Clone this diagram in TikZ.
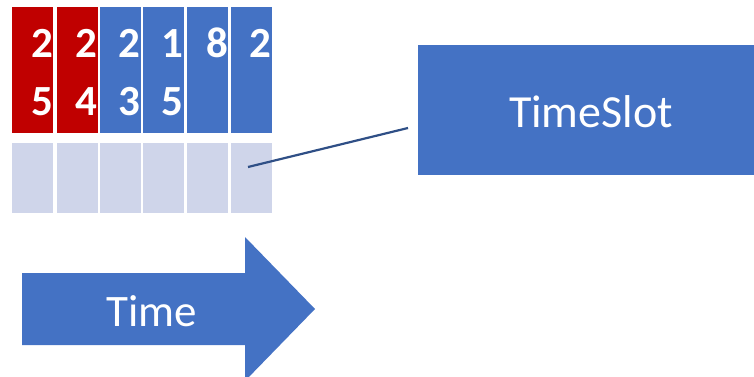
\documentclass[tikz,border=0pt]{standalone}
\usepackage{fontspec}
\setmainfont{Carlito}
\definecolor{obl}{HTML}{4472C4}
\definecolor{ored}{HTML}{C00000}
\definecolor{olight}{HTML}{CFD5EA}
\definecolor{oline}{HTML}{2F4F86}
\begin{document}
\begin{tikzpicture}[x=1pt,y=-1pt,
  topcell/.style={draw=none,fill=#1,minimum width=41pt,minimum height=126pt,inner sep=0pt,outer sep=0pt,anchor=north west},
  botcell/.style={draw=none,fill=olight,minimum width=41pt,minimum height=70pt,inner sep=0pt,outer sep=0pt,anchor=north west},
  digit/.style={text=white,font=\fontsize{43}{43}\selectfont\bfseries,inner sep=0pt,anchor=base east},
  bigbox/.style={fill=obl,draw=none,inner sep=0pt,outer sep=0pt},
  lbl/.style={text=white,font=\fontsize{46}{46}\selectfont,inner sep=0pt}]
\useasboundingbox (0,0) rectangle (754,377);
% top cells
\node[topcell=ored] (t1) at (12,7) {};
\node[topcell=ored] (t2) at (56.5,7) {};
\node[topcell=obl] (t3) at (100,7) {};
\node[topcell=obl] (t4) at (143,7) {};
\node[topcell=obl] (t5) at (187,7) {};
\node[topcell=obl] (t6) at (230.5,7) {};
% bottom cells
\node[botcell] (b1) at (12,143) {};
\node[botcell] (b2) at (56.5,143) {};
\node[botcell] (b3) at (100,143) {};
\node[botcell] (b4) at (143,143) {};
\node[botcell] (b5) at (187,143) {};
\node[botcell] (b6) at (230.5,143) {};
% digits
\node[digit] (d1a) at (53,58) {2};
\node[digit] (d1b) at (53,115) {5};
\node[digit] (d2a) at (97,58) {2};
\node[digit] (d2b) at (97,115) {4};
\node[digit] (d3a) at (140.5,58) {2};
\node[digit] (d3b) at (140.5,115) {3};
\node[digit] (d4a) at (183,58) {1};
\node[digit] (d4b) at (183,115) {5};
\node[digit] (d5a) at (228,58) {8};
\node[digit] (d6a) at (271,58) {2};
% TimeSlot box
\fill[obl] (418,45) rectangle (754,175);
\node[lbl] (ts) at (591,112) {TimeSlot};
\coordinate (ls) at (248,167);
\coordinate (le) at (408,128);
\draw[oline,line width=2.2pt] (ls) -- (le);
% Time arrow
\fill[obl] (22,273) -- (245,273) -- (245,237) -- (315,309) -- (245,381) -- (245,345) -- (22,345) -- cycle;
\node[lbl,font=\fontsize{45}{45}\selectfont] (time) at (152,311) {Time};
\end{tikzpicture}
\end{document}
